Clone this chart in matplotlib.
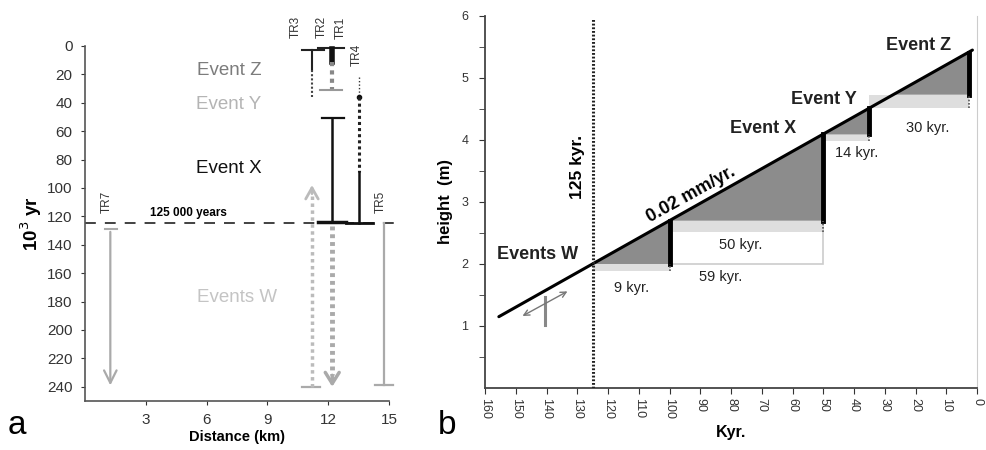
import numpy as np
import matplotlib
matplotlib.use("Agg")
import matplotlib.pyplot as plt

plt.rcParams['font.family'] = ['Liberation Sans', 'DejaVu Sans']

# ---- panel a data ----
a_yticks = [0, 20, 40, 60, 80, 100, 120, 140, 160, 180, 200, 220, 240]
a_xticks = [3, 6, 9, 12, 15]
age_125 = 125
# transect positions (km)
x_tr7 = 1.25
x_tr3 = 11.2
x_tr12 = 12.2
x_tr4 = 13.5
x_tr5 = 14.75
# event labels in panel a (x km, y kyr, color)
a_event_names = ["Event Z", "Event Y", "Event X", "Events W"]
a_event_x = [7.1, 7.1, 7.1, 7.5]
a_event_y = [17, 41, 86, 177]
a_event_col = ["#7c7c7c", "#b4b4b4", "#111111", "#c4c4c4"]
tr_names = ["TR3", "TR2", "TR1", "TR4", "TR5", "TR7"]
tr_label_x = [10.4, 11.7, 12.6, 13.4, 14.6, 1.1]
tr_label_y = [-13, -13, -13, 6, 110, 110]

# ---- panel b data ----
b_xticks = [160, 150, 140, 130, 120, 110, 100, 90, 80, 70, 60, 50, 40, 30, 20, 10, 0]
b_yticks = [1, 2, 3, 4, 5, 6]
line_t = [155.5, 1.5]
line_h = [1.15, 5.45]
# triangles: (start kyr, end kyr, base height, top height)
tri_t0 = [125, 100, 50, 27]
tri_t1 = [100, 50, 35, 2.5]
tri_base = [2.0, 2.70, 4.09, 4.73]
tri_top = [2.70, 4.09, 4.52, 5.41]
# light bands below triangles: (t0, t1, h_low, h_high)
band_t0 = [125, 100, 50, 35]
band_t1 = [100, 50, 35, 2.5]
band_lo = [1.88, 2.52, 3.98, 4.52]
band_hi = [2.0, 2.70, 4.09, 4.73]
dur_labels = ["9 kyr.", "50 kyr.", "14 kyr.", "30 kyr.", "59 kyr."]
dur_t = [112.5, 77, 39, 16, 83.5]
dur_h = [1.61, 2.31, 3.79, 4.2, 1.79]
b_event_names = ["Events W", "Event X", "Event Y", "Event Z"]
b_event_t = [156, 69.5, 49.7, 18.9]
b_event_h = [2.15, 4.19, 4.65, 5.53]

fig = plt.figure(figsize=(9.87, 4.5), dpi=100)

# ================= panel a =================
ax = fig.add_axes([0.0861, 0.109, 0.308, 0.789])
ax.set_xlim(0, 15)
ax.set_ylim(250, 0)
for s in ["top", "right"]:
    ax.spines[s].set_visible(False)
for s in ["left", "bottom"]:
    ax.spines[s].set_color("#555555")
    ax.spines[s].set_linewidth(1.2)
ax.set_yticks(a_yticks)
ax.set_xticks(a_xticks)
ax.tick_params(axis="both", labelsize=11, colors="#333333", length=3, direction="out", pad=6)
ax.set_ylabel("10$^3$ yr", fontsize=13.5, fontweight="bold", labelpad=2)
ax.set_xlabel("Distance (km)", fontsize=10.5, fontweight="bold", labelpad=2)

# 125 000 years line
ax.plot([0, 15.3], [age_125, age_125], ls=(0, (6, 5)), color="#333333", lw=1.3, clip_on=False)
ax.text(5.1, 118, "125 000 years", fontsize=8.5, fontweight="bold", ha="center", va="center")

# TR7 gray arrow
ax.plot([1.0, 1.6], [129, 129], color="#aaaaaa", lw=1.5)
ax.annotate("", xy=(x_tr7, 241), xytext=(x_tr7, 129),
            arrowprops=dict(arrowstyle="->,head_length=0.9,head_width=0.45", color="#aaaaaa", lw=1.6))

# TR3
ax.plot([10.7, 11.8], [3, 3], color="#222222", lw=1.5)
ax.plot([x_tr3, x_tr3], [3, 17], color="#222222", lw=1.5)
ax.plot([x_tr3, x_tr3], [17, 36], color="#444444", lw=1.5, ls=(0, (1, 1)))

# TR1 / TR2
ax.plot([11.5, 12.8], [1.5, 1.5], color="#222222", lw=1.5)
ax.plot([x_tr12, x_tr12], [2, 11], color="#111111", lw=4)
ax.plot([x_tr12, x_tr12], [11, 30], color="#888888", lw=3, ls=(0, (1, 1)))
ax.plot([11.6, 12.7], [31, 31], color="#999999", lw=1.5)

# Event X bar
ax.plot([11.7, 12.8], [50.5, 50.5], color="#111111", lw=1.6)
ax.plot([x_tr12, x_tr12], [50.5, 124], color="#111111", lw=1.8)
ax.plot([11.5, 12.9], [124, 124], color="#111111", lw=2.5)

# TR4
ax.plot([x_tr4, x_tr4], [22, 36], color="#333333", lw=1.0, ls=(0, (1, 1.5)))
ax.plot([x_tr4], [36], "o", color="#111111", ms=3)
ax.plot([x_tr4, x_tr4], [36, 89], color="#222222", lw=2.2, ls=(0, (1, 1)))
ax.plot([x_tr4, x_tr4], [89, 125], color="#111111", lw=1.8)
ax.plot([12.9, 14.2], [125, 125], color="#111111", lw=2)

# TR5
ax.plot([x_tr5, x_tr5], [125, 239], color="#aaaaaa", lw=1.6)
ax.plot([14.3, 15.2], [239, 239], color="#aaaaaa", lw=1.6, clip_on=False)

# gray up arrow (TR3) and down arrow (TR1/TR2)
ax.plot([10.7, 11.6], [240, 240], color="#aaaaaa", lw=1.6)
ax.plot([x_tr3, x_tr3], [240, 103], color="#bbbbbb", lw=2.5, ls=(0, (1, 1)))
ax.annotate("", xy=(x_tr3, 96), xytext=(x_tr3, 106),
            arrowprops=dict(arrowstyle="->,head_length=0.8,head_width=0.45", color="#bbbbbb", lw=2))
ax.plot([x_tr12, x_tr12], [127, 232], color="#aaaaaa", lw=3.5, ls=(0, (0.8, 0.8)))
ax.annotate("", xy=(x_tr12, 242), xytext=(x_tr12, 230),
            arrowprops=dict(arrowstyle="->,head_length=0.8,head_width=0.5", color="#aaaaaa", lw=2.5))

for name, ex, ey, col in zip(a_event_names, a_event_x, a_event_y, a_event_col):
    ax.text(ex, ey, name, fontsize=13.5, color=col, ha="center", va="center")
for name, tx, ty in zip(tr_names, tr_label_x, tr_label_y):
    ax.text(tx, ty, name, fontsize=8.5, rotation=90, ha="center", va="center",
            color="#333333", clip_on=False)

fig.text(0.008, 0.035, "a", fontsize=24)

# ================= panel b =================
bx = fig.add_axes([0.4914, 0.1378, 0.4985, 0.8267])
bx.set_xlim(160, 0)
bx.set_ylim(0, 6)
bx.spines["top"].set_visible(False)
bx.spines["right"].set_color("#cccccc")
for s in ["left", "bottom"]:
    bx.spines[s].set_color("#444444")
    bx.spines[s].set_linewidth(1.3)
bx.set_xticks(b_xticks)
bx.set_xticklabels([str(v) for v in b_xticks], rotation=-90)
bx.set_yticks(b_yticks)
bx.set_yticks(np.arange(0.5, 6, 1.0), minor=True)
bx.tick_params(axis="both", which="both", labelsize=9, colors="#333333", length=4, direction="out")
bx.tick_params(axis="y", pad=8)
bx.set_ylabel("height  (m)", fontsize=12, fontweight="bold", labelpad=6)
bx.set_xlabel("Kyr.", fontsize=11.5, fontweight="bold", labelpad=4)

# 59 kyr box
bx.fill([100, 50, 50, 100], [2.0, 2.0, 2.70, 2.70], facecolor="white", edgecolor="#cccccc", lw=1.2, zorder=1)
for t0, t1, lo, hi in zip(band_t0, band_t1, band_lo, band_hi):
    bx.fill([t0, t1, t1, t0], [lo, lo, hi, hi], color="#dedede", lw=0, zorder=2)
for t0, t1, b0, top in zip(tri_t0, tri_t1, tri_base, tri_top):
    bx.fill([t0, t1, t1], [b0, top, b0], color="#8c8c8c", lw=0, zorder=3)
    bx.plot([t1, t1], [b0, top], color="black", lw=3.5, zorder=4)
for t1, lo, hi in zip(band_t1, band_lo, band_hi):
    bx.plot([t1, t1], [lo, hi], color="#555555", lw=1.2, ls=(0, (1, 1)), zorder=4)

bx.plot(line_t, line_h, color="black", lw=2.2, zorder=5, solid_capstyle="round")
bx.plot([125, 125], [0, 5.95], color="#222222", lw=2.2, ls=(0, (0.6, 0.6)), zorder=5)
bx.text(130, 3.56, "125 kyr.", rotation=90, fontsize=12.5, fontweight="bold", ha="center", va="center")
bx.text(93, 3.12, "0.02 mm/yr.", rotation=29, fontsize=13, fontweight="bold", ha="center", va="center")

for name, et, eh in zip(b_event_names, b_event_t, b_event_h):
    bx.text(et, eh, name, fontsize=13, fontweight="bold", color="#222222",
            ha="left" if name == "Events W" else "center", va="center")
for lab, dt, dh in zip(dur_labels, dur_t, dur_h):
    bx.text(dt, dh, lab, fontsize=10.5, ha="center", va="center", color="#222222")

# strike-slip symbol
bx.plot([140.5, 140.5], [1.02, 1.47], color="#888888", lw=2.2)
bx.annotate("", xy=(148.6, 1.14), xytext=(132.4, 1.58),
            arrowprops=dict(arrowstyle="<->,head_length=0.4,head_width=0.2", color="#777777", lw=1))

fig.text(0.444, 0.035, "b", fontsize=24)

fig.savefig("out.png", dpi=100)
